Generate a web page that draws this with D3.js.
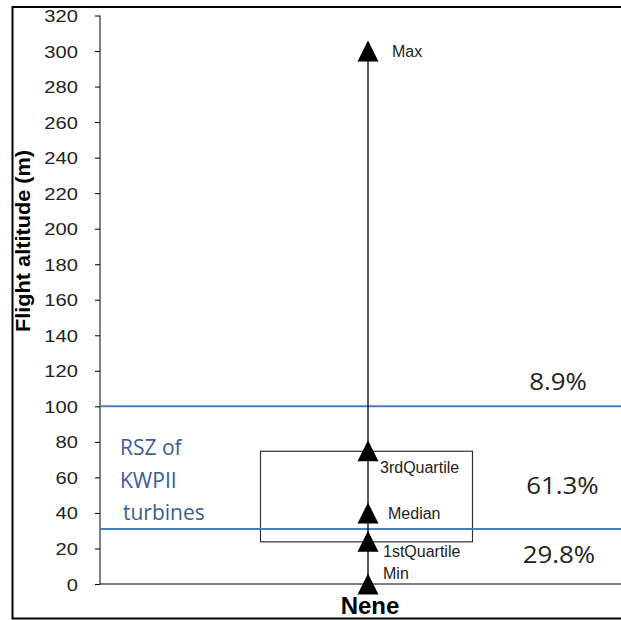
<!DOCTYPE html>
<html><head><meta charset="utf-8">
<script src="https://cdn.jsdelivr.net/npm/d3@7"></script>
<style>body{margin:0;background:#fff}svg{display:block}</style>
</head><body>
<svg id="c" width="621" height="620"></svg>
<script>
const category = ["Nene"];
const statNames = ["Min", "1stQuartile", "Median", "3rdQuartile", "Max"];
const statValues = [0, 24, 40, 75, 300];
const rszBounds = [31, 100];
const zonePercents = ["29.8%", "61.3%", "8.9%"];
const yTicks = d3.range(0, 321, 20);

const svg = d3.select("#c");
const y = d3.scaleLinear().domain([0, 320]).range([584, 15.5]);
const x = d3.scaleBand().domain(category).range([100, 636]);
const cx = x(category[0]) + x.bandwidth() / 2;
const sans = "Liberation Sans, Arial, sans-serif";
const calib = "Open Sans, Liberation Sans, sans-serif";

// outer frame
svg.append("path").attr("d", "M621,7 H12.5 V618.5 H621").attr("fill", "none").attr("stroke", "#000").attr("stroke-width", 2);

// y axis
const ax = svg.append("g").attr("transform", "translate(100,0)")
  .call(d3.axisLeft(y).tickValues(yTicks).tickSize(5).tickFormat(d3.format("d")));
ax.select(".domain").attr("stroke", "#000").attr("d", "M0,15.5V584");
ax.selectAll(".tick line").attr("stroke", "#000");
ax.selectAll(".tick text").attr("x", null).attr("dy", "0.36em").attr("transform", "translate(-22,0) scale(1.2,1)")
  .attr("font-family", sans).attr("font-size", 16.8).attr("fill", "#222");

// x axis
svg.append("line").attr("x1", 100).attr("x2", 621).attr("y1", y(0)).attr("y2", y(0)).attr("stroke", "#000");
svg.append("text").attr("x", cx + 2).attr("y", 614).attr("text-anchor", "middle")
  .attr("font-family", sans).attr("font-weight", "bold").attr("font-size", 24).text(category[0]);

// y title
svg.append("text").attr("transform", `translate(30,241) rotate(-90)`).attr("text-anchor", "middle")
  .attr("font-family", sans).attr("font-weight", "bold").attr("font-size", 20)
  .attr("textLength", 182).attr("lengthAdjust", "spacingAndGlyphs").text("Flight altitude (m)");

// box
svg.append("rect").attr("x", 260.5).attr("width", 212).attr("y", y(statValues[3]) + 0.5)
  .attr("height", y(statValues[1]) - y(statValues[3])).attr("fill", "none").attr("stroke", "#333").attr("stroke-width", 1.2);

// rsz lines
svg.selectAll(".rsz").data(rszBounds).join("line").attr("x1", 100).attr("x2", 621)
  .attr("y1", d => y(d)).attr("y2", d => y(d)).attr("stroke", "#4a7ebb").attr("stroke-width", 2);

// whisker
svg.append("line").attr("x1", cx).attr("x2", cx).attr("y1", y(statValues[4])).attr("y2", y(statValues[0])).attr("stroke", "#000").attr("stroke-width", 1.3);

// triangles
svg.selectAll(".tri").data(statValues).join("path").attr("d", "M0,-10.5L10.5,10.5L-10.5,10.5Z")
  .attr("transform", d => `translate(${cx},${y(d)})`).attr("fill", "#000");

// stat labels
const labelPos = {"Min": [383, 579], "1stQuartile": [383, 557], "Median": [388, 519], "3rdQuartile": [380, 473], "Max": [392, 57]};
svg.selectAll(".sl").data(statNames).join("text").attr("x", d => labelPos[d][0]).attr("y", d => labelPos[d][1])
  .attr("font-family", sans).attr("font-size", 16).attr("fill", "#222").text(d => d);

// percents
const pcPos = [[559, 563], [562.5, 494], [558, 390]];
svg.selectAll(".pc").data(zonePercents).join("text").attr("text-anchor", "middle")
  .attr("transform", (d, i) => `translate(${pcPos[i][0]},${pcPos[i][1]}) scale(1.1,1)`)
  .attr("font-family", calib).attr("font-size", 23.5).attr("fill", "#222").text(d => d);

// RSZ label
const rszLines = ["RSZ of", "KWPII", "turbines"];
svg.selectAll(".rl").data(rszLines).join("text").attr("x", (d, i) => i === 2 ? 123 : 120).attr("y", (d, i) => 455 + i * 32.5)
  .attr("font-family", calib).attr("font-size", 21).attr("fill", "#3a5d92").text(d => d);
</script>
</body></html>
